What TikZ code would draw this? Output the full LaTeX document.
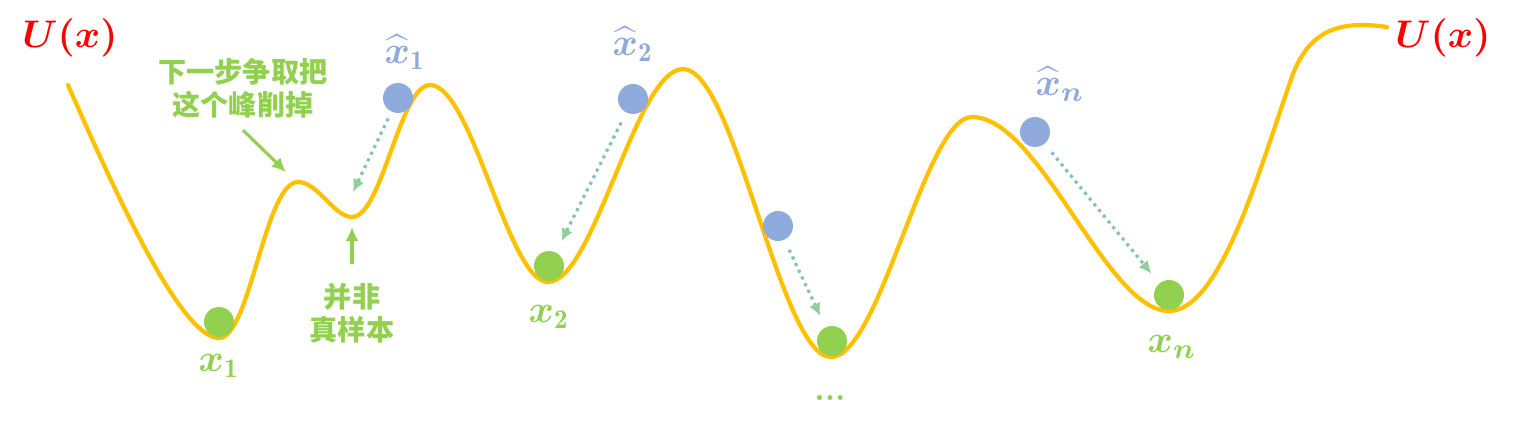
\documentclass[tikz,border=0pt]{standalone}
\usepackage{amsmath}
\usepackage{fontspec}
\newfontfamily\cjk{Noto Sans CJK SC}
\usetikzlibrary{arrows.meta}
\definecolor{curveyel}{HTML}{FFC000}
\definecolor{ballgreen}{HTML}{92D050}
\definecolor{ballblue}{HTML}{8FAADC}
\definecolor{dotteal}{HTML}{86BFC0}
\definecolor{tipgreen}{HTML}{8FD09A}
\definecolor{ured}{HTML}{FF0000}
\begin{document}
\begin{tikzpicture}[x=0.01cm,y=-0.01cm,
        curve/.style={line width=1.2pt,draw=curveyel,line cap=round},
        ball/.style={circle,inner sep=0pt,minimum size=0.3cm},
        gball/.style={ball,fill=ballgreen},
        bball/.style={ball,fill=ballblue},
        ulabel/.style={text=ured,font=\fontsize{10.5}{12}\selectfont},
        glabel/.style={text=ballgreen,inner sep=1pt,font=\fontsize{11}{12}\selectfont},
        blabel/.style={text=ballblue,inner sep=1pt,font=\fontsize{11}{12}\selectfont},
        note/.style={text=ballgreen,font=\cjk\bfseries\fontsize{8}{9.4}\selectfont,align=center,inner sep=1pt},
        slide/.style={line width=0.9pt,draw=dotteal,dash pattern=on 0.9pt off 1.2pt,
            -{Latex[length=3.6pt,width=3.4pt,color=tipgreen]},shorten <=3pt,shorten >=3.4pt},
        garrow/.style={line width=0.9pt,draw=ballgreen,-{Latex[length=4pt,width=3.8pt]}}]
        \useasboundingbox (0,0) rectangle (1514,421);
        %% Energy curve
        \draw[curve] (68,85) .. controls (112,185) and (180,338) .. (219,338)
            .. controls (250,338) and (265,182) .. (298,182)
            .. controls (318,182) and (334,217) .. (352,217)
            .. controls (382,217) and (400,85) .. (430,85)
            .. controls (472,85) and (508,282) .. (548,282)
            .. controls (594,282) and (636,69) .. (683,69)
            .. controls (735,69) and (780,357) .. (831,357)
            .. controls (880,357) and (925,117) .. (972,117)
            .. controls (1040,117) and (1106,311) .. (1169,311)
            .. controls (1222,311) and (1262,160) .. (1293,74)
            .. controls (1310,30) and (1340,20) .. (1387,27);
        \node[ulabel] (uleft) at (70,38) {$\boldsymbol{U(x)}$};
        \node[ulabel] (uright) at (1443,38) {$\boldsymbol{U(x)}$};
        %% Balls
        \node[gball] (gx1) at (219,322) {};
        \node[gball] (gx2) at (549,266) {};
        \node[gball] (gx3) at (832,341) {};
        \node[gball] (gxn) at (1169,295) {};
        \node[bball] (bx1) at (398,98) {};
        \node[bball] (bx2) at (633,99) {};
        \node[bball] (bx3) at (778,226) {};
        \node[bball] (bxn) at (1035,132) {};
        %% Labels
        \node[glabel] (lx1) at (219,366) {$\boldsymbol{x}_{\mathbf{1}}$};
        \node[glabel] (lx2) at (549,317) {$\boldsymbol{x}_{\mathbf{2}}$};
        \node[glabel] (lxn) at (1172,347) {$\boldsymbol{x}_{\boldsymbol{n}}$};
        \node[glabel,font=\bfseries\fontsize{9}{10}\selectfont] (ldots) at (830,398) {...};
        \node[blabel] (lbx1) at (405,52) {$\widehat{\boldsymbol{x}}_{\mathbf{1}}$};
        \node[blabel] (lbx2) at (633,44) {$\widehat{\boldsymbol{x}}_{\mathbf{2}}$};
        \node[blabel] (lbxn) at (1060,84) {$\widehat{\boldsymbol{x}}_{\boldsymbol{n}}$};
        %% Notes
        \node[note] (cut) at (243,88) {下一步争取把\\这个峰削掉};
        \node[note] (fake) at (352,313) {并非\\真样本};
        \coordinate (bump) at (286,172);
        \coordinate (dipabove) at (353,192);
        \coordinate (dipbelow) at (352,227);
        \draw[garrow] (cut.south) ++(0,8) -- (bump);
        \draw[garrow] (fake.north) ++(0,-15) -- (dipbelow);
        %% Sliding down
        \draw[slide,shorten <=2pt,shorten >=0pt] (bx1) -- (dipabove);
        \draw[slide] (bx2) -- (gx2);
        \draw[slide] (bx3) -- (gx3);
        \draw[slide] (bxn) -- (gxn);
    \end{tikzpicture}
\end{document}
